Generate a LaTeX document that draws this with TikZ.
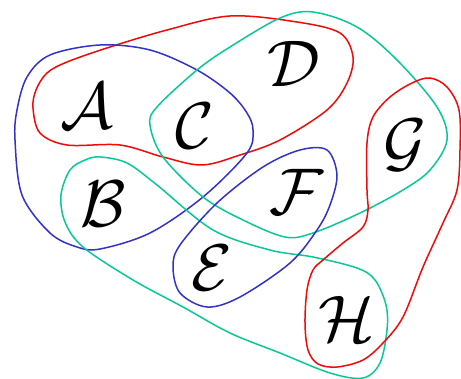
\documentclass[tikz,border=0pt]{standalone}
\definecolor{hred}{RGB}{240,10,10}
\definecolor{hblue}{RGB}{50,50,200}
\definecolor{hteal}{RGB}{10,200,150}
\newcommand{\biglet}[1]{\scalebox{6.6}{$\mathcal{#1}$}}
\begin{document}
\begin{tikzpicture}[x=1pt,y=-1pt,
  vlabel/.style={inner sep=0pt},
  hyper/.style={line width=1.5pt}]
\useasboundingbox (0,0) rectangle (461,379);
% red A C D
\draw[hyper,hred] plot[smooth cycle,tension=0.55] coordinates {(33,108) (36,90) (47,73) (67,62) (110,47) (167,30) (230,16) (297,22) (340,33) (353,57) (347,83) (327,110) (280,140) (240,155) (202,165) (163,157) (120,145) (67,145) (40,133)};
% blue A B C
\draw[hyper,hblue] plot[smooth cycle,tension=0.55] coordinates {(15,140) (17,110) (27,77) (50,55) (100,45) (150,50) (197,70) (230,93) (247,113) (253,130) (247,153) (203,197) (150,233) (100,249) (77,247) (50,233) (22,195)};
% teal C D F G
\draw[hyper,hteal] plot[smooth cycle,tension=0.55] coordinates {(150,125) (157,107) (197,70) (230,47) (280,18) (313,12) (357,27) (397,60) (437,107) (447,140) (430,170) (403,190) (360,213) (313,233) (285,237) (243,220) (203,197) (163,157)};
% teal B E H
\draw[hyper,hteal] plot[smooth cycle,tension=0.55] coordinates {(61,195) (70,170) (85,160) (100,157) (127,163) (157,185) (213,230) (270,250) (313,257) (357,268) (375,280) (386,305) (387,330) (380,363) (363,378) (330,373) (280,353) (230,333) (183,307) (133,280) (83,247) (65,222)};
% blue E F
\draw[hyper,hblue] plot[smooth cycle,tension=0.55] coordinates {(173,267) (180,245) (217,203) (263,167) (300,150) (327,150) (337,175) (330,205) (317,230) (290,263) (240,297) (207,307) (180,293)};
% red G H
\draw[hyper,hred] plot[smooth cycle,tension=0.55] coordinates {(430,78) (447,87) (459,110) (460,150) (457,190) (443,223) (423,267) (403,317) (383,343) (363,360) (337,367) (318,364) (308,350) (305,323) (307,290) (313,270) (323,260) (343,243) (363,227) (368,210) (367,190) (367,143) (373,117) (390,97) (412,83)};
% labels
\node[vlabel] (A) at (87,106) {\biglet{A}};
\node[vlabel] (B) at (103,204) {\biglet{B}};
\node[vlabel] (C) at (195,126) {\biglet{C}};
\node[vlabel] (D) at (294,64) {\biglet{D}};
\node[vlabel] (E) at (212,268) {\biglet{E}};
\node[vlabel] (F) at (296,192) {\biglet{F}};
\node[vlabel] (G) at (405,145) {\biglet{G}};
\node[vlabel] (H) at (347,319) {\biglet{H}};
\end{tikzpicture}
\end{document}
